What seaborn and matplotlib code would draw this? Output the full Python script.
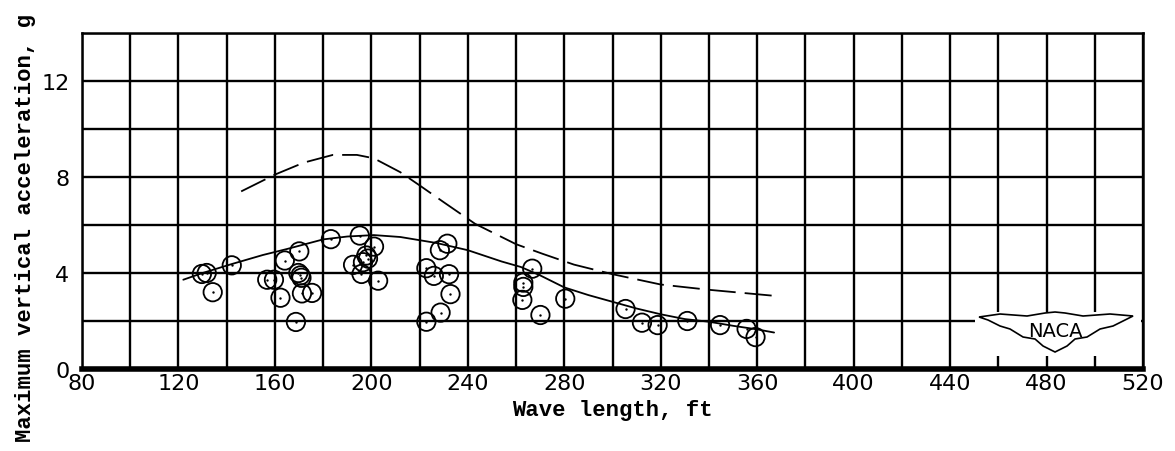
import numpy as np
import pandas as pd
import seaborn as sns
import matplotlib.pyplot as plt
from matplotlib.patches import Polygon, Rectangle

# measured points (wave length ft, max vertical acceleration g)
pt_x = [129.7, 131.7, 134.2, 142.1, 156.8, 159.6, 162.3, 164.1, 170.1, 169.7,
        170.6, 171.0, 171.2, 175.4, 168.7, 183.2, 195.2, 201.1, 197.9, 198.6,
        196.5, 192.4, 195.9, 202.8, 222.8, 225.9, 232.2, 232.8, 228.7, 222.8,
        228.4, 231.5, 266.7, 263.0, 263.0, 262.6, 270.1, 280.4, 305.4, 312.2,
        318.7, 331.0, 344.6, 355.6, 359.3]
pt_y = [3.96, 4.0, 3.2, 4.32, 3.72, 3.72, 2.97, 4.52, 4.9, 4.0,
        3.9, 3.8, 3.15, 3.17, 1.96, 5.41, 5.56, 5.1, 4.73, 4.6,
        4.45, 4.34, 3.96, 3.68, 4.2, 3.88, 3.95, 3.12, 2.35, 1.97,
        4.95, 5.22, 4.18, 3.6, 3.42, 2.88, 2.25, 2.93, 2.5, 1.93,
        1.83, 2.0, 1.83, 1.67, 1.33]

# faired curve through data (solid)
solid_x = [122, 130, 142, 155, 165, 180, 190, 201, 212, 227, 240, 254, 262, 270,
           280, 290, 300, 310, 320, 330, 340, 350, 360, 367]
solid_y = [3.72, 4.0, 4.37, 4.75, 5.0, 5.4, 5.52, 5.58, 5.5, 5.25, 4.95, 4.48, 4.25, 3.9,
           3.4, 3.08, 2.8, 2.52, 2.28, 2.08, 1.97, 1.8, 1.65, 1.52]

# dashed curve
dash_x = [146, 160, 172, 184, 194, 201, 212, 220, 230, 243, 251, 260, 271, 284,
          300, 320, 340, 367]
dash_y = [7.4, 8.1, 8.6, 8.92, 8.92, 8.78, 8.2, 7.65, 6.95, 6.05, 5.65, 5.2, 4.8, 4.35,
          3.95, 3.52, 3.3, 3.05]

x_ticks = list(range(80, 521, 40))
y_ticks = [0, 4, 8, 12]

sns.set_style("white")
plt.rcParams['font.family'] = ['DejaVu Sans']
plt.rcParams.update({'text.color': 'black', 'axes.labelcolor': 'black',
                     'xtick.color': 'black', 'ytick.color': 'black'})

fig, ax = plt.subplots(figsize=(11.75, 4.52), dpi=100)
fig.subplots_adjust(left=0.0698, right=0.9728, top=0.9248, bottom=0.1814)

pts = pd.DataFrame({'wave_length': pt_x, 'accel': pt_y})
sns.lineplot(x=solid_x, y=solid_y, color='black', lw=1.3, sort=False, ax=ax, zorder=3)
sns.lineplot(x=dash_x, y=dash_y, color='black', lw=1.3, sort=False, ax=ax, zorder=3,
             linestyle=(0, (15, 5)))
sns.scatterplot(data=pts, x='wave_length', y='accel', marker='o', s=175,
                facecolor='none', edgecolor='black', linewidth=1.3, ax=ax, zorder=4)
sns.scatterplot(data=pts, x='wave_length', y='accel', marker='o', s=3,
                color='black', edgecolor='black', linewidth=0, ax=ax, zorder=5)

ax.set_xlim(80, 520)
ax.set_ylim(0, 14)
ax.set_xticks(x_ticks)
ax.set_xticks(list(range(100, 521, 40)), minor=True)
ax.set_yticks(y_ticks)
ax.set_yticks([2, 6, 10, 14], minor=True)
ax.set_axisbelow(True)
ax.grid(which='both', color='black', lw=1.7)
ax.tick_params(which='both', length=0, labelsize=16)
ax.tick_params(axis='x', pad=3)
ax.tick_params(axis='y', pad=9)

for side in ['top', 'right', 'left']:
    ax.spines[side].set_color('black')
    ax.spines[side].set_linewidth(1.8)
ax.spines['bottom'].set_color('black')
ax.spines['bottom'].set_linewidth(4)

ax.set_xlabel('Wave length, ft', family='Liberation Mono', fontsize=16,
              fontweight='bold', labelpad=4)
ax.set_ylabel('Maximum vertical acceleration, g', family='Liberation Mono',
              fontsize=16, fontweight='bold')
ax.yaxis.set_label_coords(-0.043, 0.4226)

# NACA logo, grid blanked behind it
ax.add_patch(Rectangle((450.5, 0.55), 68.5, 1.83, facecolor='white', edgecolor='none', zorder=1))
wing_px = [(979, 318), (1000, 315), (1027, 317), (1045, 314), (1055, 313), (1065, 314),
           (1083, 317), (1110, 315), (1133, 317), (1125, 321), (1113, 327), (1100, 330),
           (1087, 338), (1075, 340), (1067, 347), (1055, 353), (1043, 347), (1035, 340),
           (1023, 338), (1010, 330), (1000, 327), (988, 321)]
wing = [((px - 82) / 1061, (370 - py) / 336) for px, py in wing_px]
ax.add_patch(Polygon(wing, closed=True, transform=ax.transAxes, facecolor='white',
                     edgecolor='black', lw=1.2, zorder=3))
ax.text(0.917, 0.116, 'NACA', transform=ax.transAxes, ha='center', va='center',
        fontsize=14, zorder=4)

fig.savefig('out.png', dpi=100)
